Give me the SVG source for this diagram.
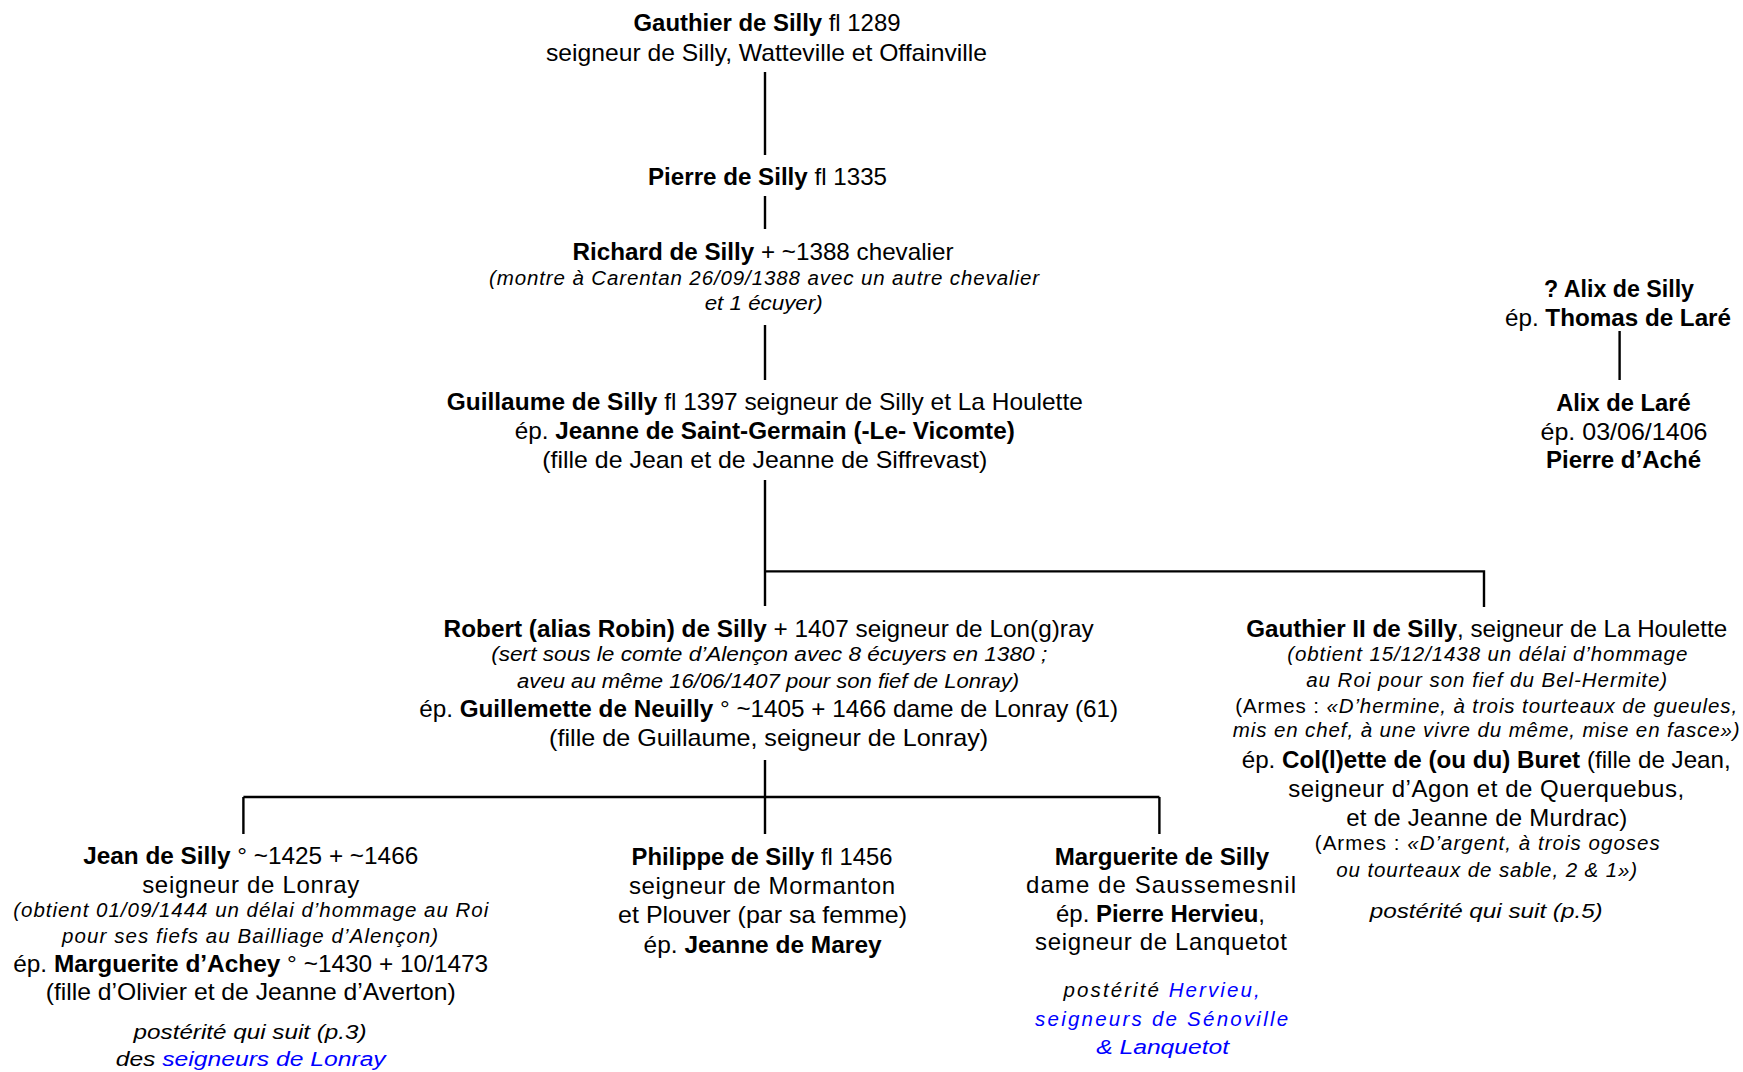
<svg xmlns="http://www.w3.org/2000/svg" width="1743" height="1072" viewBox="0 0 1743 1072">
<style>
text{font-family:"Liberation Sans",Arial,sans-serif;font-size:24px;fill:#000;text-anchor:middle}
.b{font-weight:bold}
.i{font-style:italic;font-size:20.5px}
.n{font-style:normal}
.blue{fill:#0000ff}
.c{stroke:#000;stroke-width:2.4;fill:none}
</style>
<rect width="1743" height="1072" fill="#fff"/>
<g id="connectors" class="c">
<path d="M765 72V155"/>
<path d="M765 196V229"/>
<path d="M765 325V380"/>
<path d="M765 480V606M765 571.4H1484V607"/>
<path d="M765 760V834M243.4 797H1159.4M243.4 797V834M1159.4 797V834"/>
<path d="M1619.6 331V380"/>
</g>
<g id="n-gauthier">
<text x="767" y="31" textLength="267" lengthAdjust="spacingAndGlyphs"><tspan class="b">Gauthier de Silly</tspan> fl 1289</text>
<text x="766.5" y="61" textLength="441" lengthAdjust="spacingAndGlyphs">seigneur de Silly, Watteville et Offainville</text>
</g>
<g id="n-pierre">
<text x="767.5" y="184.5" textLength="239" lengthAdjust="spacingAndGlyphs"><tspan class="b">Pierre de Silly</tspan> fl 1335</text>
</g>
<g id="n-richard">
<text x="763" y="260" textLength="381" lengthAdjust="spacingAndGlyphs"><tspan class="b">Richard de Silly</tspan> + ~1388 chevalier</text>
<text class="i" x="764" y="284.6" textLength="550" lengthAdjust="spacing">(montre à Carentan 26/09/1388 avec un autre chevalier</text>
<text class="i" x="763.7" y="310" textLength="118" lengthAdjust="spacingAndGlyphs">et 1 écuyer)</text>
</g>
<g id="n-guillaume">
<text x="764.8" y="410" textLength="636" lengthAdjust="spacingAndGlyphs"><tspan class="b">Guillaume de Silly</tspan> fl 1397 seigneur de Silly et La Houlette</text>
<text x="764.8" y="439" textLength="500" lengthAdjust="spacingAndGlyphs">ép. <tspan class="b">Jeanne de Saint-Germain (-Le- Vicomte)</tspan></text>
<text x="764.8" y="468" textLength="445" lengthAdjust="spacingAndGlyphs">(fille de Jean et de Jeanne de Siffrevast)</text>
</g>
<g id="n-robert">
<text x="768.6" y="637" textLength="650" lengthAdjust="spacingAndGlyphs"><tspan class="b">Robert (alias Robin) de Silly</tspan> + 1407 seigneur de Lon(g)ray</text>
<text class="i" x="769.2" y="661.4" textLength="556" lengthAdjust="spacingAndGlyphs">(sert sous le comte d’Alençon avec 8 écuyers en 1380 ;</text>
<text class="i" x="768.1" y="688" textLength="502" lengthAdjust="spacingAndGlyphs">aveu au même 16/06/1407 pour son fief de Lonray)</text>
<text x="768.7" y="717" textLength="699" lengthAdjust="spacingAndGlyphs">ép. <tspan class="b">Guillemette de Neuilly</tspan> ° ~1405 + 1466 dame de Lonray (61)</text>
<text x="768.6" y="746" textLength="439" lengthAdjust="spacingAndGlyphs">(fille de Guillaume, seigneur de Lonray)</text>
</g>
<g id="n-gauthier2">
<text x="1486.7" y="637" textLength="481" lengthAdjust="spacingAndGlyphs"><tspan class="b">Gauthier II de Silly</tspan>, seigneur de La Houlette</text>
<text class="i" x="1487.3" y="661.4" textLength="400" lengthAdjust="spacing">(obtient 15/12/1438 un délai d’hommage</text>
<text class="i" x="1486.7" y="687" textLength="361" lengthAdjust="spacing">au Roi pour son fief du Bel-Hermite)</text>
<text class="i" x="1486.2" y="712.5" textLength="502" lengthAdjust="spacing"><tspan class="n">(Armes : </tspan>«D’hermine, à trois tourteaux de gueules,</text>
<text class="i" x="1486.2" y="737" textLength="507" lengthAdjust="spacing">mis en chef, à une vivre du même, mise en fasce»)</text>
<text x="1486.2" y="768" textLength="489" lengthAdjust="spacingAndGlyphs">ép. <tspan class="b">Col(l)ette de (ou du) Buret</tspan> (fille de Jean,</text>
<text x="1486.2" y="797" textLength="396" lengthAdjust="spacing">seigneur d’Agon et de Querquebus,</text>
<text x="1486.7" y="826" textLength="281" lengthAdjust="spacing">et de Jeanne de Murdrac)</text>
<text class="i" x="1487.3" y="850.4" textLength="345" lengthAdjust="spacing"><tspan class="n">(Armes : </tspan>«D’argent, à trois ogoses</text>
<text class="i" x="1486.7" y="877" textLength="301" lengthAdjust="spacing">ou tourteaux de sable, 2 &amp; 1»)</text>
<text class="i" x="1486.2" y="918" textLength="233" lengthAdjust="spacingAndGlyphs">postérité qui suit (p.5)</text>
</g>
<g id="n-alix">
<text class="b" x="1619" y="297" textLength="150" lengthAdjust="spacingAndGlyphs">? Alix de Silly</text>
<text x="1618" y="325.7" textLength="226" lengthAdjust="spacingAndGlyphs">ép. <tspan class="b">Thomas de Laré</tspan></text>
</g>
<g id="n-alix-lare">
<text class="b" x="1623.4" y="411" textLength="134.5" lengthAdjust="spacingAndGlyphs">Alix de Laré</text>
<text x="1624" y="440" textLength="167" lengthAdjust="spacingAndGlyphs">ép. 03/06/1406</text>
<text class="b" x="1623.5" y="468" textLength="155" lengthAdjust="spacingAndGlyphs">Pierre d’Aché</text>
</g>
<g id="n-jean">
<text x="250.7" y="863.7" textLength="335" lengthAdjust="spacingAndGlyphs"><tspan class="b">Jean de Silly</tspan> ° ~1425 + ~1466</text>
<text x="250.7" y="892.6" textLength="217" lengthAdjust="spacing">seigneur de Lonray</text>
<text class="i" x="250.7" y="917" textLength="475" lengthAdjust="spacing">(obtient 01/09/1444 un délai d’hommage au Roi</text>
<text class="i" x="250.1" y="942.6" textLength="376" lengthAdjust="spacing">pour ses fiefs au Bailliage d’Alençon)</text>
<text x="250.7" y="971.5" textLength="475" lengthAdjust="spacingAndGlyphs">ép. <tspan class="b">Marguerite d’Achey</tspan> ° ~1430 + 10/1473</text>
<text x="250.7" y="1000.4" textLength="410" lengthAdjust="spacingAndGlyphs">(fille d’Olivier et de Jeanne d’Averton)</text>
<text class="i" x="250.1" y="1039.3" textLength="233" lengthAdjust="spacingAndGlyphs">postérité qui suit (p.3)</text>
<text class="i" x="250.7" y="1066" textLength="270" lengthAdjust="spacingAndGlyphs">des <tspan class="blue">seigneurs de Lonray</tspan></text>
</g>
<g id="n-philippe">
<text x="762" y="864.8" textLength="261" lengthAdjust="spacingAndGlyphs"><tspan class="b">Philippe de Silly</tspan> fl 1456</text>
<text x="762" y="893.7" textLength="266" lengthAdjust="spacing">seigneur de Mormanton</text>
<text x="762.6" y="922.6" textLength="289" lengthAdjust="spacingAndGlyphs">et Plouver (par sa femme)</text>
<text x="762.6" y="952.6" textLength="238" lengthAdjust="spacingAndGlyphs">ép. <tspan class="b">Jeanne de Marey</tspan></text>
</g>
<g id="n-marguerite">
<text class="b" x="1162" y="864.8" textLength="214.5" lengthAdjust="spacingAndGlyphs">Marguerite de Silly</text>
<text x="1161" y="892.6" textLength="270" lengthAdjust="spacing">dame de Saussemesnil</text>
<text x="1160.5" y="921.5" textLength="209" lengthAdjust="spacingAndGlyphs">ép. <tspan class="b">Pierre Hervieu</tspan>,</text>
<text x="1161" y="950.4" textLength="252" lengthAdjust="spacing">seigneur de Lanquetot</text>
<text class="i" x="1161.6" y="997" textLength="196" lengthAdjust="spacing">postérité <tspan class="blue">Hervieu,</tspan></text>
<text class="i blue" x="1161.6" y="1026" textLength="253" lengthAdjust="spacing">seigneurs de Sénoville</text>
<text class="i blue" x="1162.7" y="1053.8" textLength="133" lengthAdjust="spacingAndGlyphs">&amp; Lanquetot</text>
</g>
</svg>
